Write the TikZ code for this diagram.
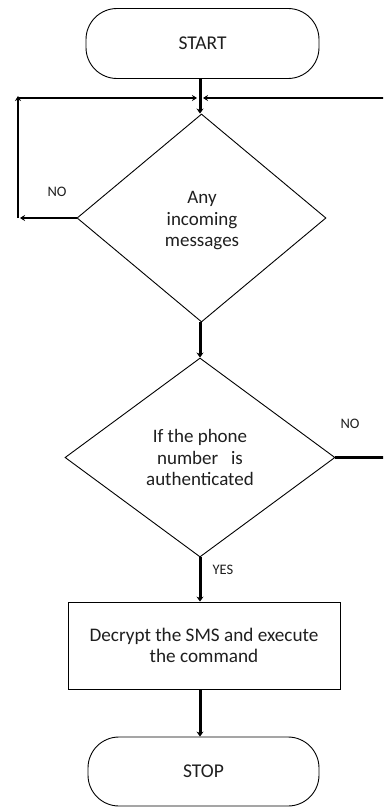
\documentclass[tikz,border=0pt]{standalone}
\usepackage{fontspec}
\setmainfont{Carlito}
\usetikzlibrary{shapes.geometric,arrows.meta}
\begin{document}
\begin{tikzpicture}[x=1pt,y=-1pt,
  term/.style={draw,line width=0.9pt,rounded corners=31pt,minimum width=233pt,minimum height=70pt,inner sep=0pt,font=\fontsize{19.5}{21}\selectfont,text=black!88},
  dec/.style={draw,diamond,line width=0.9pt,inner sep=0pt,align=center,font=\fontsize{19}{21.5}\selectfont,text=black!88},
  proc/.style={draw,rectangle,line width=0.9pt,minimum width=272pt,minimum height=87pt,inner sep=0pt,align=center,font=\fontsize{19.2}{21}\selectfont,text=black!88},
  flow/.style={line width=3pt,-{Stealth[length=5pt,width=7pt]}},
  loop/.style={line width=2.5pt,-{Stealth[length=5pt,width=6pt]}},
  lab/.style={font=\fontsize{14.5}{16}\selectfont,text=black!88}]
\useasboundingbox (0,0) rectangle (383,808);
\clip (0,0) rectangle (383,808);
\fill[white] (0,0) rectangle (383,808);
\node[term] (start) at (202.5,43.5) {START};
\node[dec,minimum width=249pt,minimum height=208pt] (d1) at (201.5,218) {};
\node[font=\fontsize{19}{21.5}\selectfont,text=black!88,align=center] (d1t) at (202,221) {Any\\incoming\\messages};
\node[dec,minimum width=270pt,minimum height=199pt] (d2) at (200,457.5) {If the phone\\number\ \ \ is\\authenticated};
\node[proc] (p) at (204,645.5) {Decrypt the SMS and execute\\the command};
\node[term,minimum width=231pt,minimum height=69pt] (stop) at (203.5,771.5) {STOP};
\coordinate (merge) at (200,98);
\coordinate (lt) at (18,98);
\coordinate (lb) at (18,218);
\coordinate (rt) at (400,98);
\coordinate (rb) at (400,457.5);
% main flow
\draw[flow] (start.south -| merge) -- (d1.north -| merge);
\draw[flow] (d1.south -| merge) -- (d2.north -| merge);
\draw[flow] (d2.south -| merge) -- (p.north -| merge);
\draw[flow] (p.south -| merge) -- (stop.north -| merge);
% NO loop left
\draw[loop] (d1.west) -- ([xshift=2pt]lb);
\draw[loop] (lb) -- ([yshift=2pt]lt);
\draw[loop] (lt) -- ([xshift=-3pt]merge);
% NO loop right
\draw[line width=2.5pt] (d2.east) -- (rb) -- (rt);
\draw[loop] (rt) -- ([xshift=3pt]merge);
% labels
\node[lab] (no1) at (57,192) {NO};
\node[lab] (no2) at (350,424) {NO};
\node[lab] (yes) at (223,570) {YES};
\end{tikzpicture}
\end{document}
